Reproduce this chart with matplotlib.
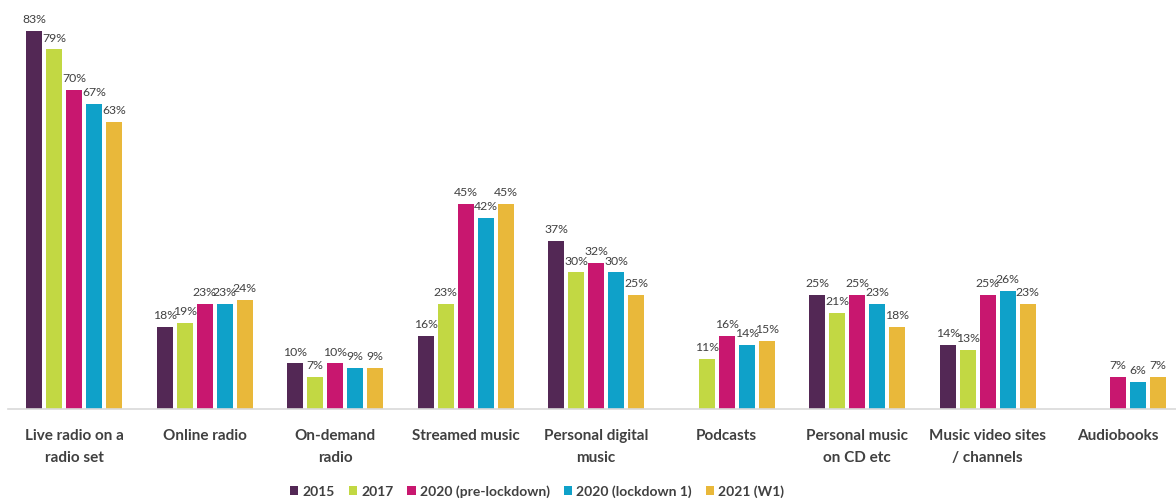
import numpy as np
import matplotlib
matplotlib.use("Agg")
import matplotlib.pyplot as plt
from matplotlib.patches import Patch

categories = ["Live radio on a\nradio set", "Online radio", "On-demand\nradio", "Streamed music",
              "Personal digital\nmusic", "Podcasts", "Personal music\non CD etc",
              "Music video sites\n/ channels", "Audiobooks"]
series_names = ["2015", "2017", "2020 (pre-lockdown)", "2020 (lockdown 1)", "2021 (W1)"]
v2015 = [83, 18, 10, 16, 37, np.nan, 25, 14, np.nan]
v2017 = [79, 19, 7, 23, 30, 11, 21, 13, np.nan]
v2020_pre = [70, 23, 10, 45, 32, 16, 25, 25, 7]
v2020_lock = [67, 23, 9, 42, 30, 14, 23, 26, 6]
v2021 = [63, 24, 9, 45, 25, 15, 18, 23, 7]
series_values = [v2015, v2017, v2020_pre, v2020_lock, v2021]
colors = ["#532855", "#c2d843", "#c8176f", "#0fa1c9", "#e9b83a"]

FONT = "Lato"
TXT = "#404040"

fig = plt.figure(figsize=(11.76, 5.02), dpi=100)
ax = fig.add_axes([8 / 1176, 92 / 502, 1168 / 1176, 409.6 / 502])

x = np.arange(len(categories))
step = 20 / 130.5
width = 16 / 130.5
for i, (vals, c) in enumerate(zip(series_values, colors)):
    pos = x + (i - 2) * step
    ax.bar(pos, vals, width=width, color=c, edgecolor="none")
    for p, v in zip(pos, vals):
        if not np.isnan(v):
            ax.annotate(f"{v:.0f}%", (p, v), xytext=(0, 5), textcoords="offset points",
                        ha="center", va="bottom", fontsize=8.8, color=TXT, family=FONT)

ax.set_xlim(-0.506, 8.444)
ax.set_ylim(0, 90)
ax.set_yticks([])
for s in ["top", "right", "left"]:
    ax.spines[s].set_visible(False)
ax.spines["bottom"].set_color("#d9d9d9")
ax.spines["bottom"].set_linewidth(1.2)
ax.set_xticks(x)
ax.set_xticklabels(categories, fontsize=11, fontweight="bold", color=TXT, family=FONT,
                   linespacing=1.7)
ax.tick_params(axis="x", length=0, pad=14)

handles = [Patch(facecolor=c, edgecolor="none") for c in colors]
fig.legend(handles, series_names, loc="center", bbox_to_anchor=(537 / 1176, 1 - 492 / 502),
           ncol=5, frameon=False, handlelength=0.6, handleheight=0.6, handletextpad=0.3,
           columnspacing=1.0, prop={"family": FONT, "weight": "bold", "size": 10},
           labelcolor=TXT)

fig.savefig("out.png", dpi=100)
